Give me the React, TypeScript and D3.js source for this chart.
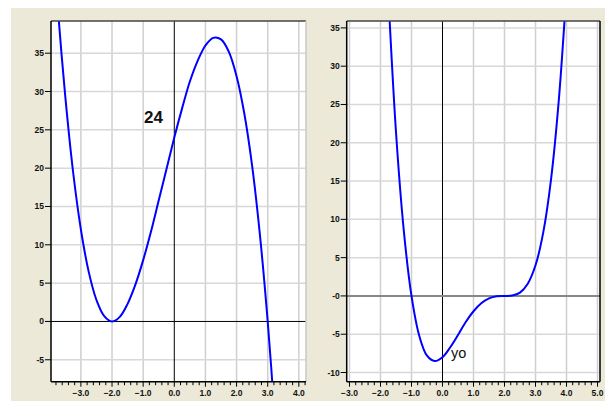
import React from "react";
import * as d3 from "d3";

// values
const leftX = [-3.9, -3.75, -3.5, -3.25, -3.0, -2.75, -2.5, -2.25, -2.0, -1.75, -1.5, -1.25, -1.0, -0.75, -0.5, -0.25, 0, 0.25, 0.5, 0.75, 1.0, 1.25, 1.5, 1.75, 2.0, 2.25, 2.5, 2.75, 3.0, 3.25];
const leftY = [49.8, 41.3, 29.3, 19.5, 12.0, 6.5, 2.8, 0.7, 0, 0.6, 2.3, 4.8, 8.0, 11.7, 15.8, 19.9, 24.0, 27.8, 31.3, 34.0, 36.0, 37.0, 36.8, 35.2, 32.0, 27.1, 20.3, 11.3, 0, -13.8];

const rightX = [-1.75, -1.5, -1.25, -1.0, -0.75, -0.5, -0.25, 0, 0.25, 0.5, 0.75, 1.0, 1.25, 1.5, 1.75, 2.0, 2.25, 2.5, 2.75, 3.0, 3.25, 3.5, 3.75, 4.0];
const rightY = [39.5, 21.4, 8.6, 0, -5.2, -7.8, -8.5, -8.0, -6.7, -5.1, -3.4, -2.0, -0.95, -0.31, -0.04, 0, 0.05, 0.44, 1.6, 4.0, 8.3, 15.2, 25.5, 40.0];

const leftXTicks = [-3, -2, -1, 0, 1, 2, 3, 4];
const leftYTicks = [-5, 0, 5, 10, 15, 20, 25, 30, 35];
const leftYLabels = ["-5", "0", "5", "10", "15", "20", "25", "30", "35"];

const rightXTicks = [-3, -2, -1, 0, 1, 2, 3, 4, 5];
const rightYTicks = [-10, -5, 0, 5, 10, 15, 20, 25, 30, 35];
const rightYLabels = ["-10", "-5", "-0", "5", "10", "15", "20", "25", "30", "35"];

const BG = "#ECE9D8";

type PanelProps = {
  id: string;
  xs: number[];
  ys: number[];
  xDomain: [number, number];
  yDomain: [number, number];
  xRange: [number, number];
  xTicks: number[];
  yTicks: number[];
  yLabels: string[];
  zeroH: { stroke: string; width: number };
  rightFrame: string;
  note: { text: string; x: number; y: number; size: number; weight: string };
};

const top = 21;
const bottom = 381.7;

function Panel(p: PanelProps) {
  const x = d3.scaleLinear().domain(p.xDomain).range(p.xRange);
  const y = d3.scaleLinear().domain(p.yDomain).range([bottom, top]);
  const pts = p.xs.map((v, i) => [v, p.ys[i]] as [number, number]);
  const line = d3.line<[number, number]>()
    .x(d => x(d[0]))
    .y(d => y(d[1]))
    .curve(d3.curveCatmullRom.alpha(0.5));

  const [x0, x1] = p.xRange;
  const minor = d3.range(Math.ceil(p.xDomain[0] * 5), Math.floor(p.xDomain[1] * 5) + 1).map(k => k / 5);
  const font = "'Liberation Sans', Arial, sans-serif";

  return (
    <g>
      <defs>
        <clipPath id={p.id}>
          <rect x={x0} y={top} width={x1 - x0} height={bottom - top} />
        </clipPath>
      </defs>
      <rect x={x0} y={top} width={x1 - x0} height={bottom - top} fill="#fff" />
      {p.xTicks.filter(t => t !== 0).map(t => (
        <line key={"gx" + t} x1={x(t)} x2={x(t)} y1={top} y2={bottom} stroke="#cfcfcf" strokeWidth={1.5} />
      ))}
      {p.yTicks.filter(t => t !== 0).map(t => (
        <line key={"gy" + t} x1={x0} x2={x1} y1={y(t)} y2={y(t)} stroke="#d8d8d8" strokeWidth={1.5} />
      ))}
      <line x1={x(0)} x2={x(0)} y1={top} y2={bottom} stroke="#000" strokeWidth={1} />
      <line x1={x0} x2={x1} y1={y(0)} y2={y(0)} stroke={p.zeroH.stroke} strokeWidth={p.zeroH.width} />
      <path d={line(pts) ?? ""} fill="none" stroke="#0000ff" strokeWidth={2} clipPath={`url(#${p.id})`} />
      {/* frame */}
      <line x1={x0} x2={x1} y1={top} y2={top} stroke="#444" strokeWidth={1.5} />
      <line x1={x0} x2={x0} y1={top} y2={bottom} stroke="#000" strokeWidth={1.5} />
      <line x1={x1} x2={x1} y1={top} y2={bottom} stroke={p.rightFrame} strokeWidth={1.5} />
      <line x1={x0} x2={x1} y1={bottom} y2={bottom} stroke="#000" strokeWidth={1.5} />
      {minor.map(t => {
        const major = Math.abs(t - Math.round(t)) < 1e-9;
        return (
          <line key={"mt" + t} x1={x(t)} x2={x(t)} y1={bottom} y2={bottom + (major ? 5 : 3.5)} stroke="#000" strokeWidth={1} />
        );
      })}
      {p.xTicks.map(t => (
        <text key={"xl" + t} x={x(t)} y={395.5} textAnchor="middle" fontFamily={font} fontWeight="bold" fontSize={8.5} fill="#111">
          {d3.format(".1f")(t)}
        </text>
      ))}
      {p.yTicks.map((t, i) => (
        <g key={"yl" + t}>
          <line x1={x0 - 6} x2={x0} y1={y(t)} y2={y(t)} stroke="#000" strokeWidth={1} />
          <text x={x0 - 7} y={y(t) + 3} textAnchor="end" fontFamily={font} fontWeight="bold" fontSize={8.5} fill="#111">
            {p.yLabels[i]}
          </text>
        </g>
      ))}
      <text x={p.note.x} y={p.note.y} fontFamily={font} fontWeight={p.note.weight} fontSize={p.note.size} fill="#111">
        {p.note.text}
      </text>
    </g>
  );
}

export default function App() {
  return (
    <svg width={611} height={401} style={{ position: "absolute", left: 0, top: 0 }}>
      <rect x={0} y={0} width={611} height={401} fill="#fff" />
      <rect x={11} y={8} width={594} height={393} fill={BG} />
      <Panel
        id="clipL"
        xs={leftX}
        ys={leftY}
        xDomain={[-3.96, 4.23]}
        yDomain={[-7.86, 39.2]}
        xRange={[51, 306]}
        xTicks={leftXTicks}
        yTicks={leftYTicks}
        yLabels={leftYLabels}
        zeroH={{ stroke: "#000", width: 1 }}
        rightFrame="#c8c8c8"
        note={{ text: "24", x: 144, y: 123, size: 17, weight: "bold" }}
      />
      <Panel
        id="clipR"
        xs={rightX}
        ys={rightY}
        xDomain={[-3.09, 5.08]}
        yDomain={[-11.2, 35.9]}
        xRange={[346.7, 600]}
        xTicks={rightXTicks}
        yTicks={rightYTicks}
        yLabels={rightYLabels}
        zeroH={{ stroke: "#888", width: 2 }}
        rightFrame="#000"
        note={{ text: "yo", x: 451, y: 358, size: 14.5, weight: "normal" }}
      />
    </svg>
  );
}
